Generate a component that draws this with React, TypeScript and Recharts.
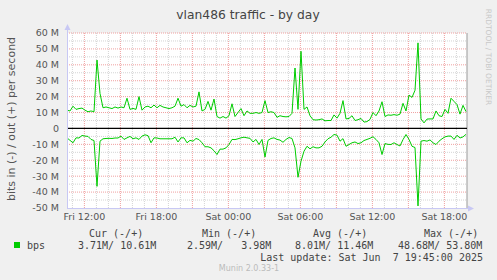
import React from "react";
import {
  LineChart,
  Line,
  XAxis,
  YAxis,
  ReferenceLine,
} from "recharts";

// one sample every 15 minutes, first one Fri 10:33 (hours since Fri 00:00)
const START_HOUR = 10.55;
const STEP_HOURS = 0.25;
const END_HOUR = START_HOUR + 400 / 12;

// out (+) traffic, Mbit/s
const outMbps = [
  11.5, 11, 14, 12, 12.5, 12.8, 11.5, 10.5, 11, 10.5,
  43, 22, 13, 13.5, 13, 12.5, 13.5, 12.8, 13.5, 13,
  19, 12, 12.6, 12, 20, 11.5, 13.5, 14, 13, 14.7,
  13, 14.5, 13.5, 13, 12.5, 13, 14, 19, 14, 15,
  13, 14.5, 13.5, 14, 23, 11, 12, 17, 11.5, 18.5,
  7.5, 6.5, 7.5, 6.5, 8, 15.5, 7.5, 10, 12.5, 8,
  11, 9.5, 9.5, 10, 9.5, 10, 17.5, 10, 10.5, 10,
  7, 8, 7.5, 7.3, 7.5, 9.5, 38, 12, 48.5, 12,
  13.5, 8, 5.5, 5.3, 5.5, 6, 4.8, 5, 5, 8.5,
  6.5, 9.5, 17.5, 6, 6.3, 8, 5, 5.5, 6.3, 4,
  4.3, 5.7, 10, 8, 11, 16.8, 7.5, 8.5, 8.3, 8.7,
  8.3, 9, 15.8, 11, 21, 19.5, 24, 53.8, 6, 3.5,
  5.9, 6, 6, 11, 8, 7.5, 12, 9.5, 19, 17,
  15, 9, 14.5, 10.6,
];

// in (-) traffic, Mbit/s (drawn below zero)
const inMbps = [
  5.9, 7.5, 9, 5.9, 6, 4.4, 4.8, 5, 6.9, 7.6,
  36.4, 8, 6.5, 6.3, 6.2, 6.3, 6, 6, 4.8, 6.9,
  5.9, 5, 6.5, 5.9, 6.9, 4.8, 4, 4.5, 9, 5.9,
  6, 6.5, 6.5, 6.5, 6.5, 6.5, 5.5, 8.5, 5.9, 5.9,
  9, 7.5, 8, 6.3, 7, 9, 11.5, 11.5, 12.2, 14,
  16.4, 13, 13, 12.2, 10.1, 6.9, 7, 6.5, 5.9, 5.5,
  5.9, 6.2, 8.5, 6.9, 10.1, 6.9, 18, 7.5, 6.3, 5.9,
  6.9, 7.3, 8.7, 6.9, 5.7, 6.3, 12.2, 30.7, 20.6, 14.3,
  11.2, 12.8, 11.5, 12.2, 12.2, 11.2, 8.5, 6.5, 5.5, 3.8,
  4.2, 8, 6.4, 11.2, 10.1, 9, 8.5, 9.5, 9, 7.6,
  6.9, 6.2, 5.2, 6.9, 9, 16.4, 9.5, 10, 10.1, 9,
  10.1, 11, 7, 3.8, 6.9, 11.2, 12, 48.7, 8, 7.6,
  8, 7.2, 9, 10.1, 8, 6.5, 5.3, 4.8, 4.8, 6.9,
  4.3, 6, 5.3, 3.7,
];

const timeTicks = [12, 18, 24, 30, 36, 42];
const timeLabels = ["Fri 12:00", "Fri 18:00", "Sat 00:00", "Sat 06:00", "Sat 12:00", "Sat 18:00"];
const valueTicks = [-50, -40, -30, -20, -10, 0, 10, 20, 30, 40, 50, 60];

const legendHeads = ["Cur (-/+)", "Min (-/+)", "Avg (-/+)", "Max (-/+)"];
const legendValues = ["3.71M/ 10.61M", "2.59M/   3.98M", "8.01M/ 11.46M", "48.68M/ 53.80M"];

const GREEN = "#00cc00";
const MAJOR = "#f0a0a0";
const MINOR = "#d4d4d4";
const AXIS = "#c8c8f4";

const hourLines: number[] = [];
for (let h = 11; h < END_HOUR; h++) hourLines.push(h);
const fiveMLines: number[] = [];
for (let v = -45; v <= 60; v += 5) if (v !== 0) fiveMLines.push(v);

const tableData = outMbps.map((v, i) => ({
  t: START_HOUR + i * STEP_HOURS,
  out: v,
  in: -inMbps[i],
}));

const fmtTime = (v: number) => timeLabels[timeTicks.indexOf(v)] ?? "";
const fmtValue = (v: number) => (v === 0 ? "0" : `${v} M`);

export default function App() {
  return (
    <div
      style={{
        position: "absolute",
        left: 0,
        top: 0,
        width: 497,
        height: 280,
        background: "#f0f0f0",
        fontFamily: "'DejaVu Sans', sans-serif",
      }}
    >
      {/* white canvas behind the plot area */}
      <div
        style={{
          position: "absolute",
          left: 67,
          top: 33,
          width: 400,
          height: 175,
          background: "#fff",
        }}
      />
      <LineChart
        width={497}
        height={280}
        data={tableData}
        margin={{ top: 33, right: 30, left: 0, bottom: 0 }}
        style={{ position: "absolute", left: 0, top: 0 }}
      >
        <XAxis
          type="number"
          dataKey="t"
          domain={[START_HOUR, END_HOUR]}
          ticks={timeTicks}
          tickFormatter={fmtTime}
          height={72}
          tickSize={0}
          tickMargin={5}
          axisLine={false}
          tick={{ fill: "#555", fontSize: 9.5 }}
          allowDataOverflow
        />
        <YAxis
          type="number"
          domain={[-50, 60]}
          ticks={valueTicks}
          tickFormatter={fmtValue}
          width={67}
          tickSize={0}
          tickMargin={8}
          axisLine={false}
          tick={{ fill: "#555", fontSize: 9.5 }}
          allowDataOverflow
        />
        {hourLines.map((h) => (
          <ReferenceLine
            key={`h${h}`}
            x={h}
            stroke={h % 3 === 0 ? MAJOR : MINOR}
            strokeDasharray="1 1"
          />
        ))}
        {fiveMLines.map((v) => (
          <ReferenceLine
            key={`v${v}`}
            y={v}
            stroke={v % 10 === 0 ? MAJOR : MINOR}
            strokeDasharray="1 1"
          />
        ))}
        <ReferenceLine x={END_HOUR} stroke="#999" />
        <ReferenceLine y={0} stroke="#000" strokeWidth={1.2} />
        <Line
          dataKey="out"
          type="linear"
          stroke={GREEN}
          strokeWidth={1}
          dot={false}
          isAnimationActive={false}
        />
        <Line
          dataKey="in"
          type="linear"
          stroke={GREEN}
          strokeWidth={1}
          dot={false}
          isAnimationActive={false}
        />
      </LineChart>

      {/* frame arrows, title and the munin legend */}
      <svg
        width={497}
        height={280}
        style={{ position: "absolute", left: 0, top: 0, pointerEvents: "none" }}
      >
        <line x1={67.5} y1={30} x2={67.5} y2={208} stroke={AXIS} />
        <polygon points="64.5,30 70.5,30 67.5,24" fill={AXIS} />
        <line x1={67} y1={208.5} x2={468} y2={208.5} stroke={AXIS} />
        <polygon points="468,205.5 468,211.5 474,208.5" fill={AXIS} />

        <text x={248} y={18.5} textAnchor="middle" fontSize={12.3} fill="#444">
          vlan486 traffic - by day
        </text>
        <text
          transform="translate(11,119) rotate(-90)"
          textAnchor="middle"
          dominantBaseline="central"
          fontSize={11}
          fill="#555"
        >
          bits in (-) / out (+) per second
        </text>
        <text
          transform="translate(488.5,57) rotate(90)"
          textAnchor="middle"
          dominantBaseline="central"
          fontSize={7.5}
          fill="#c8c8c8"
        >
          RRDTOOL / TOBI OETIKER
        </text>

        <g fontFamily="'DejaVu Sans Mono', monospace" fontSize={10} fill="#444">
          {legendHeads.map((s, i) => (
            <text key={s} x={[89, 202, 313, 424][i]} y={236.5} style={{ whiteSpace: "pre" }}>
              {s}
            </text>
          ))}
          <rect x={14} y={242} width={6} height={6} fill={GREEN} />
          <text x={27} y={248.5}>bps</text>
          {legendValues.map((s, i) => (
            <text key={s} x={[78, 187, 295, 398][i]} y={248.5} style={{ whiteSpace: "pre" }}>
              {s}
            </text>
          ))}
          <text x={483} y={260.5} textAnchor="end" style={{ whiteSpace: "pre" }}>
            Last update: Sat Jun  7 19:45:00 2025
          </text>
        </g>
        <text x={249} y={271} textAnchor="middle" fontSize={8} fill="#bbb">
          Munin 2.0.33-1
        </text>
      </svg>
    </div>
  );
}
